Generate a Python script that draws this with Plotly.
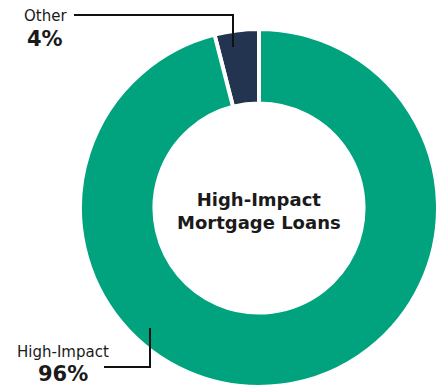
import plotly.graph_objects as go

# Share of mortgage loans by category
categories = ["Other", "High-Impact"]
shares = [4, 96]
colors = ["#22344F", "#00A37E"]

W, H = 444, 387


def px(x):
    return x / W


def py(y):
    return 1 - y / H


# start the first slice so that it ends at 12 o'clock
start_angle = -360 * shares[0] / sum(shares)

fig = go.Figure(
    go.Pie(
        labels=categories,
        values=shares,
        sort=False,
        direction="clockwise",
        rotation=start_angle,
        hole=0.584,
        marker=dict(colors=colors, line=dict(color="white", width=4)),
        textinfo="none",
        hoverinfo="label+percent",
        showlegend=False,
        domain=dict(x=[px(79), px(439)], y=[0, py(29)]),
    )
)

label_font = "'DejaVu Sans', sans-serif"

annotations = [
    # centre title
    dict(x=px(259), y=py(211), text="<b>High-Impact<br>Mortgage Loans</b>",
         font=dict(size=18, color="#1a1a1a", family=label_font)),
    # Other callout
    dict(x=px(45), y=py(16), text=categories[0],
         font=dict(size=15, color="#1a1a1a", family=label_font)),
    dict(x=px(45), y=py(39), text=f"<b>{shares[0]}%</b>",
         font=dict(size=21, color="#1a1a1a", family=label_font)),
    # High-Impact callout
    dict(x=px(63), y=py(352), text=categories[1],
         font=dict(size=15, color="#1a1a1a", family=label_font)),
    dict(x=px(63), y=py(374), text=f"<b>{shares[1]}%</b>",
         font=dict(size=21, color="#1a1a1a", family=label_font)),
]
for a in annotations:
    a.update(xref="paper", yref="paper", showarrow=False, xanchor="center", yanchor="middle")

# leader lines
line_style = dict(color="#111111", width=2)
shapes = [
    dict(type="path", xref="paper", yref="paper",
         path=f"M {px(74)},{py(15)} L {px(233)},{py(15)} L {px(233)},{py(47)}",
         line=line_style),
    dict(type="path", xref="paper", yref="paper",
         path=f"M {px(104)},{py(367)} L {px(150)},{py(367)} L {px(150)},{py(328)}",
         line=line_style),
]

fig.update_layout(
    width=W, height=H,
    margin=dict(l=0, r=0, t=0, b=0),
    paper_bgcolor="white",
    plot_bgcolor="white",
    annotations=annotations,
    shapes=shapes,
)

fig.write_html("out.html")
